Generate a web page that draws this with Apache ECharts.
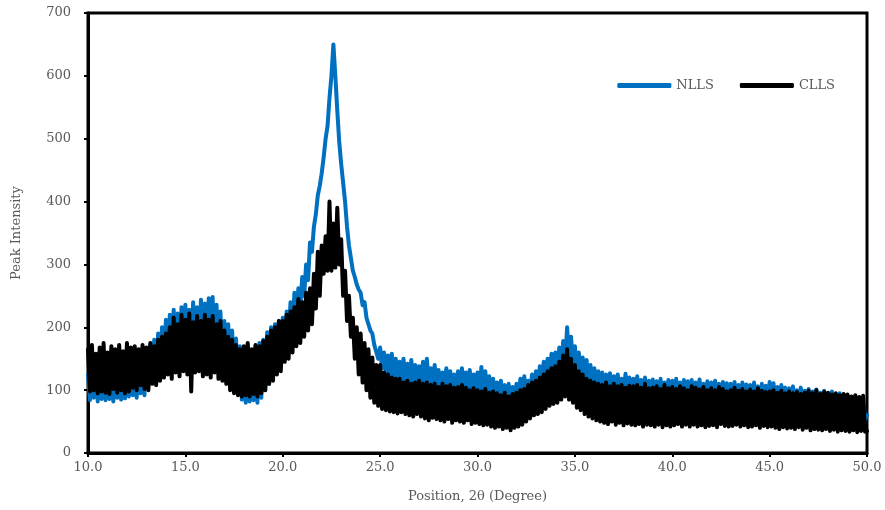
<!DOCTYPE html>
<html>
<head>
<meta charset="utf-8">
<title>XRD</title>
<script src="https://cdn.jsdelivr.net/npm/echarts@6/dist/echarts.min.js"></script>
<style>
  html, body { margin: 0; padding: 0; background: #fff; }
  #chart { width: 885px; height: 510px; }
</style>
</head>
<body>
<div id="chart"></div>
<script>
// scan grid: 10.0 to 50.0 degree, 0.1 degree per step
var thetaStart = 10
var thetaStep = 0.1

// NLLS intensity, one row per degree (x.0 ... x.9)
var nlls = [
  125, 84, 150, 88, 142, 82, 155, 86, 148, 84,
  150, 86, 158, 82, 145, 88, 162, 85, 150, 87,
  155, 90, 150, 92, 162, 88, 158, 95, 150, 92,
  165, 110, 172, 118, 180, 115, 190, 125, 200, 130,
  212, 128, 220, 140, 228, 135, 222, 145, 232, 140,
  236, 145, 228, 150, 240, 148, 232, 152, 244, 150,
  238, 145, 246, 140, 248, 150, 236, 138, 225, 135,
  210, 130, 205, 118, 195, 110, 182, 95, 170, 85,
  165, 80, 172, 82, 160, 84, 168, 80, 175, 88,
  180, 100, 192, 110, 200, 125, 205, 140, 210, 155,
  215, 170, 225, 185, 240, 200, 255, 215, 262, 230,
  280, 250, 300, 275, 335, 320, 360, 380, 410, 425,
  445, 470, 500, 520, 565, 600, 650, 600, 545, 495,
  460, 430, 400, 360, 330, 310, 290, 280, 268, 260,
  255, 235, 240, 215, 205, 195, 190, 172, 170, 150,
  168, 135, 160, 128, 155, 125, 158, 120, 150, 118,
  145, 115, 150, 110, 142, 112, 148, 108, 140, 110,
  138, 108, 145, 105, 150, 110, 135, 102, 140, 105,
  132, 100, 128, 105, 135, 98, 130, 102, 125, 100,
  130, 98, 135, 102, 128, 96, 132, 100, 125, 98,
  128, 95, 137, 98, 130, 94, 122, 92, 118, 90,
  112, 88, 115, 85, 108, 86, 110, 84, 105, 82,
  110, 80, 118, 88, 122, 92, 115, 95, 125, 98,
  130, 100, 138, 108, 145, 112, 150, 118, 158, 122,
  160, 125, 168, 130, 178, 140, 200, 150, 185, 145,
  170, 130, 160, 122, 152, 115, 148, 110, 140, 105,
  135, 100, 130, 98, 128, 96, 125, 95, 127, 92,
  122, 92, 125, 95, 118, 90, 126, 92, 120, 88,
  118, 88, 122, 90, 116, 86, 120, 88, 115, 85,
  117, 86, 114, 84, 118, 85, 112, 82, 116, 84,
  115, 82, 118, 85, 112, 80, 116, 83, 114, 80,
  116, 82, 112, 80, 117, 84, 110, 78, 114, 80,
  112, 78, 115, 80, 110, 76, 113, 79, 111, 77,
  110, 76, 113, 78, 108, 75, 112, 77, 109, 74,
  108, 75, 112, 77, 106, 73, 110, 75, 107, 72,
  113, 74, 111, 72, 105, 70, 108, 72, 104, 70,
  103, 70, 106, 72, 100, 68, 104, 70, 99, 67,
  102, 68, 98, 66, 101, 65, 96, 64, 99, 63,
  95, 62, 98, 63, 93, 60, 95, 61, 90, 58,
  92, 58, 89, 56, 90, 55, 86, 54, 88, 53,
  60
]

// CLLS intensity, same grid
var clls = [
  165, 98, 172, 100, 158, 95, 168, 98, 175, 96,
  160, 94, 170, 102, 165, 96, 172, 100, 162, 95,
  175, 98, 168, 104, 170, 100, 165, 108, 172, 102,
  168, 100, 175, 110, 170, 108, 180, 115, 185, 120,
  190, 125, 200, 118, 215, 128, 205, 122, 220, 130,
  212, 125, 222, 98, 208, 128, 218, 130, 210, 122,
  220, 125, 212, 120, 218, 128, 205, 118, 210, 115,
  195, 110, 185, 100, 180, 95, 172, 92, 165, 90,
  170, 92, 175, 90, 165, 94, 172, 90, 170, 95,
  178, 100, 185, 110, 195, 115, 200, 125, 210, 130,
  210, 145, 220, 150, 225, 160, 232, 170, 245, 175,
  240, 185, 255, 195, 262, 205, 285, 230, 320, 250,
  330, 285, 345, 290, 400, 290, 365, 295, 390, 300,
  340, 250, 290, 210, 250, 185, 215, 150, 200, 125,
  190, 112, 175, 100, 165, 88, 152, 80, 140, 75,
  140, 70, 128, 68, 125, 66, 120, 65, 118, 63,
  118, 65, 112, 62, 115, 60, 110, 58, 112, 62,
  115, 58, 110, 55, 112, 52, 108, 56, 110, 54,
  105, 52, 110, 50, 106, 54, 108, 48, 104, 52,
  105, 50, 108, 48, 104, 52, 100, 46, 103, 48,
  100, 46, 98, 44, 102, 45, 96, 42, 98, 40,
  95, 42, 92, 38, 96, 40, 90, 36, 94, 40,
  96, 42, 100, 45, 102, 50, 108, 55, 112, 60,
  115, 62, 120, 65, 125, 70, 130, 75, 135, 78,
  138, 80, 145, 85, 155, 90, 165, 85, 150, 80,
  140, 72, 130, 68, 125, 62, 118, 58, 115, 55,
  112, 52, 110, 50, 108, 48, 112, 46, 106, 50,
  110, 45, 106, 48, 108, 44, 104, 47, 107, 45,
  106, 44, 108, 46, 104, 42, 110, 45, 103, 44,
  104, 42, 106, 45, 102, 41, 108, 44, 103, 42,
  105, 44, 102, 46, 106, 42, 103, 45, 100, 42,
  106, 45, 104, 42, 101, 44, 105, 41, 100, 43,
  103, 44, 100, 41, 105, 46, 102, 43, 98, 42,
  100, 43, 104, 45, 99, 42, 102, 44, 98, 41,
  101, 42, 98, 44, 103, 40, 99, 43, 97, 41,
  98, 42, 100, 40, 96, 38, 99, 41, 95, 39,
  98, 40, 95, 38, 97, 41, 94, 37, 96, 40,
  99, 36, 95, 38, 100, 37, 94, 36, 97, 38,
  96, 35, 93, 37, 95, 34, 92, 36, 94, 35,
  93, 34, 90, 36, 92, 33, 89, 35, 91, 34,
  35
]

var seriesNames = ['NLLS', 'CLLS']
var seriesColors = ['#0070C0', '#000000']

function pairUp(values) {
  return values.map(function (v, i) {
    return [+(thetaStart + i * thetaStep).toFixed(1), v]
  })
}

var chart = echarts.init(document.getElementById('chart'))
var textColor = '#595959'
var font = 'DejaVu Serif'

var option = {
  animation: false,
  grid: {
    left: 88,
    right: 18,
    top: 13,
    bottom: 57,
    show: true,
    borderColor: '#000',
    borderWidth: 3
  },
  legend: {
    data: seriesNames,
    icon: 'roundRect',
    right: 45,
    top: 74,
    itemWidth: 54,
    itemHeight: 5,
    itemGap: 26,
    textStyle: { color: textColor, fontFamily: font, fontSize: 13 }
  },
  xAxis: {
    type: 'value',
    min: 10,
    max: 50,
    interval: 5,
    name: 'Position, 2θ (Degree)',
    nameLocation: 'middle',
    nameGap: 37,
    nameTextStyle: { color: textColor, fontFamily: font, fontSize: 13 },
    axisLine: { lineStyle: { color: '#000', width: 3 } },
    axisTick: { show: true, length: 4, lineStyle: { color: '#000', width: 2 } },
    axisLabel: {
      color: textColor,
      fontFamily: font,
      fontSize: 13,
      margin: 8,
      formatter: function (v) { return v.toFixed(1) }
    },
    splitLine: { show: false }
  },
  yAxis: {
    type: 'value',
    min: 0,
    max: 700,
    interval: 100,
    name: 'Peak Intensity',
    nameLocation: 'middle',
    nameGap: 65,
    nameTextStyle: { color: textColor, fontFamily: font, fontSize: 13 },
    axisLine: { show: true, lineStyle: { color: '#000', width: 3 } },
    axisTick: { show: true, length: 4, lineStyle: { color: '#000', width: 2 } },
    axisLabel: { color: textColor, fontFamily: font, fontSize: 13, margin: 17 },
    splitLine: { show: false }
  },
  series: [
    {
      name: seriesNames[0],
      type: 'line',
      data: pairUp(nlls),
      symbol: 'none',
      lineStyle: { color: seriesColors[0], width: 4, join: 'round', cap: 'round' },
      itemStyle: { color: seriesColors[0] }
    },
    {
      name: seriesNames[1],
      type: 'line',
      data: pairUp(clls),
      symbol: 'none',
      lineStyle: { color: seriesColors[1], width: 4, join: 'round', cap: 'round' },
      itemStyle: { color: seriesColors[1] }
    }
  ]
}
chart.setOption(option)
</script>
</body>
</html>
